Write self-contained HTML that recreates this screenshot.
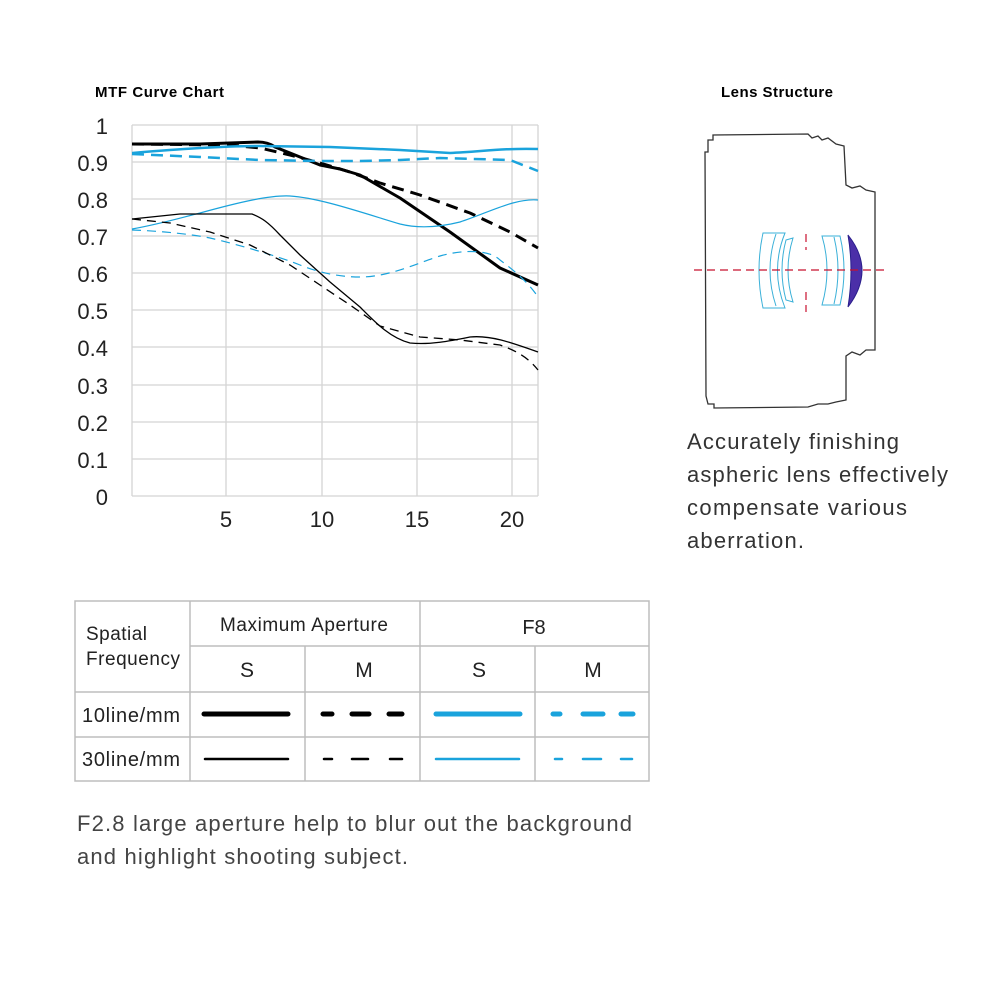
<!DOCTYPE html>
<html><head><meta charset="utf-8"><style>
html,body{margin:0;padding:0;background:#fff;width:1000px;height:1000px;overflow:hidden}
svg{display:block}
</style></head><body>
<svg width="1000" height="1000" viewBox="0 0 1000 1000" xmlns="http://www.w3.org/2000/svg" font-family="Liberation Sans, sans-serif">
<text x="95" y="97" font-size="15" font-weight="bold" fill="#000" textLength="129">MTF Curve Chart</text>
<text x="721" y="97" font-size="15" font-weight="bold" fill="#000" textLength="112">Lens Structure</text>
<!-- grid -->
<g stroke="#d4d4d4" stroke-width="1.3">
<line x1="132" y1="125" x2="538" y2="125"/><line x1="132" y1="162" x2="538" y2="162"/><line x1="132" y1="199" x2="538" y2="199"/><line x1="132" y1="236" x2="538" y2="236"/><line x1="132" y1="273" x2="538" y2="273"/><line x1="132" y1="310" x2="538" y2="310"/><line x1="132" y1="347" x2="538" y2="347"/><line x1="132" y1="385" x2="538" y2="385"/><line x1="132" y1="422" x2="538" y2="422"/><line x1="132" y1="459" x2="538" y2="459"/><line x1="132" y1="496" x2="538" y2="496"/>
<line x1="132" y1="125" x2="132" y2="496"/><line x1="226" y1="125" x2="226" y2="496"/><line x1="322" y1="125" x2="322" y2="496"/><line x1="417" y1="125" x2="417" y2="496"/><line x1="512" y1="125" x2="512" y2="496"/><line x1="538" y1="125" x2="538" y2="496"/>
</g>
<g font-size="22" fill="#222" text-anchor="end">
<text x="108" y="134">1</text><text x="108" y="171">0.9</text><text x="108" y="208">0.8</text><text x="108" y="245">0.7</text><text x="108" y="282">0.6</text><text x="108" y="319">0.5</text><text x="108" y="356">0.4</text><text x="108" y="394">0.3</text><text x="108" y="431">0.2</text><text x="108" y="468">0.1</text><text x="108" y="505">0</text>
</g>
<g font-size="22" fill="#222" text-anchor="middle">
<text x="226" y="527">5</text><text x="322" y="527">10</text><text x="417" y="527">15</text><text x="512" y="527">20</text>
</g>
<g fill="none" stroke-linejoin="round">
<path d="M132,144 L200,144 L258,142 Q268,142 275,147 L300,157 L320,165 L340,169 L360,175 L400,198 L450,232 L500,268 L538,285" stroke="#000" stroke-width="3"/>
<path d="M132,144 L230,145 L260,148 L290,155 L320,163 L350,172 L380,183 L420,195 L470,213 L510,232 L538,248" stroke="#000" stroke-width="3" stroke-dasharray="12,7"/>
<path d="M132,153 C170,150 220,146 260,146 L330,147 L400,150 L450,153 C480,152 500,148 538,149" stroke="#1aa3dc" stroke-width="2.5"/>
<path d="M132,154 L200,157 L260,160 L320,161 L360,161 L400,160 L440,158 L510,160 L538,171" stroke="#1aa3dc" stroke-width="2.5" stroke-dasharray="12,7"/>
<path d="M132,229 C160,224 180,218 200,213 C240,202 270,195 290,196 C320,198 360,212 400,224 C420,229 440,227 460,222 C490,212 515,198 538,200" stroke="#1aa3dc" stroke-width="1.2"/>
<path d="M132,230 C160,231 190,234 210,238 C240,245 280,257 300,265 C320,273 340,277 360,277 C390,277 420,262 440,256 C465,249 490,250 500,260 C520,275 530,285 538,297" stroke="#1aa3dc" stroke-width="1.2" stroke-dasharray="9,6"/>
<path d="M132,219 L180,214 L252,214 C262,218 268,222 280,235 L300,255 L330,282 L360,307 C375,322 390,338 410,343 C430,345 450,341 470,337 C490,335 510,342 538,352" stroke="#000" stroke-width="1.3"/>
<path d="M132,219 L170,223 L210,232 L250,245 L290,265 L320,285 L350,305 L380,326 L420,337 L460,340 L500,345 C520,352 530,360 538,370" stroke="#000" stroke-width="1.3" stroke-dasharray="9,6"/>
</g>
<!-- lens -->
<g fill="none" stroke="#333" stroke-width="1.3">
<path d="M708,152 L708,140 L713,140 L713,135 L808,134 L812,138 L818,136 L822,140 L828,138 L836,144 L844,146 L846,185 L852,188 L860,186 L866,190 L875,192 L875,350 L866,350 L860,355 L852,352 L846,356 L846,400 L836,402 L828,404 L818,404 L808,407 L714,408 L714,404 L708,404 L706,396 L705,152 Z"/>
</g>
<g fill="none" stroke="#3ab0d8" stroke-width="1">
<path d="M763,233 L785,233 Q770,270 785,308 L763,308 Q755,270 763,233 Z"/>
<path d="M776,234 Q764,270 776,306"/>
<path d="M786,240 L793,238 Q783,270 793,302 L786,300 Q778,270 786,240 Z"/>
<path d="M822,236 L840,236 Q848,270 840,305 L822,305 Q832,270 822,236 Z"/>
<path d="M834,237 Q842,270 834,304"/>
</g>
<path d="M848,235 Q876,270 848,307 Q854,270 848,235 Z" fill="#4b2fa8" stroke="#2a1e8c"/>
<g stroke="#c8102e" stroke-width="1.2" stroke-dasharray="8,5">
<line x1="694" y1="270" x2="888" y2="270"/>
<line x1="806" y1="234" x2="806" y2="250"/>
<line x1="806" y1="292" x2="806" y2="312"/>
</g>
<g font-size="22" fill="#333">
<text x="687" y="449" textLength="212">Accurately finishing</text>
<text x="687" y="482" textLength="261">aspheric lens effectively</text>
<text x="687" y="515" textLength="220">compensate various</text>
<text x="687" y="548" textLength="117">aberration.</text>
</g>
<!-- table -->
<g stroke="#bdbdbd" stroke-width="1.5" fill="none">
<rect x="75" y="601" width="574" height="180"/>
<line x1="190" y1="601" x2="190" y2="781"/>
<line x1="420" y1="601" x2="420" y2="781"/>
<line x1="305" y1="646" x2="305" y2="781"/>
<line x1="535" y1="646" x2="535" y2="781"/>
<line x1="190" y1="646" x2="649" y2="646"/>
<line x1="75" y1="692" x2="649" y2="692"/>
<line x1="75" y1="737" x2="649" y2="737"/>
</g>
<g font-size="19" fill="#222">
<text x="86" y="640" textLength="61">Spatial</text>
<text x="86" y="665" textLength="94">Frequency</text>
<text x="220" y="631" textLength="168">Maximum Aperture</text>
<text x="534" y="634" text-anchor="middle" font-size="20">F8</text>
<text x="247" y="677" text-anchor="middle" font-size="21">S</text>
<text x="364" y="677" text-anchor="middle" font-size="21">M</text>
<text x="479" y="677" text-anchor="middle" font-size="21">S</text>
<text x="593" y="677" text-anchor="middle" font-size="21">M</text>
<text x="82" y="722" font-size="20" textLength="98">10line/mm</text>
<text x="82" y="766" font-size="20" textLength="98">30line/mm</text>
</g>
<g stroke-linecap="round">
<line x1="204" y1="714" x2="288" y2="714" stroke="#000" stroke-width="5"/>
<path d="M323,714 H332 M352,714 H369 M389,714 H402" stroke="#000" stroke-width="5"/>
<line x1="436" y1="714" x2="520" y2="714" stroke="#1aa3dc" stroke-width="5"/>
<path d="M553,714 H560 M583,714 H603 M621,714 H633" stroke="#1aa3dc" stroke-width="5"/>
<line x1="205" y1="759" x2="288" y2="759" stroke="#000" stroke-width="2.5"/>
<path d="M324,759 H332 M352,759 H368 M390,759 H402" stroke="#000" stroke-width="2.5"/>
<line x1="436" y1="759" x2="519" y2="759" stroke="#1aa3dc" stroke-width="2.5"/>
<path d="M555,759 H562 M583,759 H601 M621,759 H632" stroke="#1aa3dc" stroke-width="2.5"/>
</g>
<g font-size="22" fill="#444">
<text x="77" y="831" textLength="555">F2.8 large aperture help to blur out the background</text>
<text x="77" y="864" textLength="331">and highlight shooting subject.</text>
</g>
</svg>
</body></html>
